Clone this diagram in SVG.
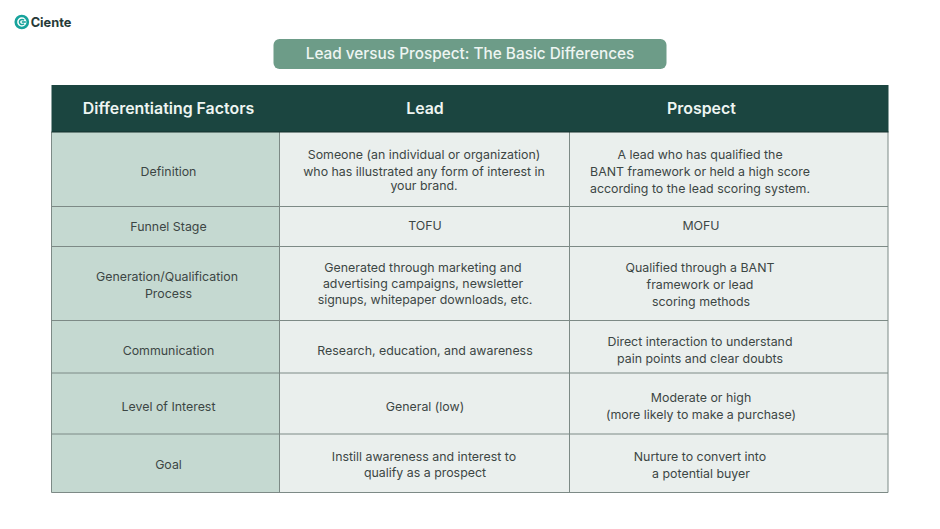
<svg xmlns="http://www.w3.org/2000/svg" width="940" height="529" viewBox="0 0 940 529">
<style>
text{font-family:Inter,"Noto Sans",sans-serif;text-anchor:middle}
.c{font-size:12.38px;fill:#3c4644}
.h{font-size:15.9px;font-weight:600;fill:#eef5f2}
.l{stroke:#7d8a86;stroke-width:1;fill:none}
</style>
<rect width="940" height="529" fill="#fff"/>
<g id="logo">
<circle cx="21.800" cy="22" r="6" fill="none" stroke="#17a39c" stroke-width="2.700"/>
<path d="M24 20.300A2.600 2.600 0 1 0 24 23.700" fill="none" stroke="#17a39c" stroke-width="1.500"/>
<rect x="21.800" y="21.200" width="4" height="1.600" fill="#17a39c"/>
<text x="51" y="26.500" style="font-size:12.800px;font-weight:700;fill:#263a38">Ciente</text>
</g>
<g id="title">
<rect x="273.500" y="39" width="393" height="30" rx="6" fill="#6d9c88"/>
<text x="470" y="59" style="font-size:15.350px;font-weight:500;fill:#eef5f2">Lead versus Prospect: The Basic Differences</text>
</g>
<g id="table-backgrounds">
<rect x="51.500" y="132" width="228" height="360.500" fill="#c5d9d1"/>
<rect x="279.500" y="132" width="608.500" height="360.500" fill="#eaefed"/>
<rect x="51.500" y="85" width="837" height="47" fill="#1b4540"/>
</g>
<g id="connectors">
<path class="l" d="M51.500 132V492.500H888V132M279.500 132V492.500M569.500 132V492.500M51.500 206.500H888M51.500 246.500H888M51.500 320.500H888M51.500 373H888M51.500 434H888"/>
<path d="M51.500 132H888.500" stroke="#15302d" stroke-width="1"/>
</g>
<g id="header">
<text class="h" x="168.500" y="113.700">Differentiating Factors</text>
<text class="h" x="425" y="113.700">Lead</text>
<text class="h" x="701.500" y="113.700">Prospect</text>
</g>
<g id="row-definition">
<text class="c" x="168.500" y="176">Definition</text>
<text class="c" x="424" y="159">Someone (an individual or organization)</text>
<text class="c" x="424" y="175.500">who has illustrated any form of interest in</text>
<text class="c" x="424" y="190">your brand.</text>
<text class="c" x="700" y="159">A lead who has qualified the</text>
<text class="c" x="700" y="176">BANT framework or held a high score</text>
<text class="c" x="700" y="193">according to the lead scoring system.</text>
</g>
<g id="row-funnel">
<text class="c" x="168.500" y="230.500">Funnel Stage</text>
<text class="c" x="425" y="230">TOFU</text>
<text class="c" x="701" y="230">MOFU</text>
</g>
<g id="row-generation">
<text class="c" x="167" y="280.500">Generation/Qualification</text>
<text class="c" x="168.500" y="297.500">Process</text>
<text class="c" x="423" y="272">Generated through marketing and</text>
<text class="c" x="423" y="288">advertising campaigns, newsletter</text>
<text class="c" x="425" y="303.500">signups, whitepaper downloads, etc.</text>
<text class="c" x="700" y="272">Qualified through a BANT</text>
<text class="c" x="700" y="289">framework or lead</text>
<text class="c" x="701" y="306">scoring methods</text>
</g>
<g id="row-communication">
<text class="c" x="168.500" y="354.500">Communication</text>
<text class="c" x="425" y="354.500">Research, education, and awareness</text>
<text class="c" x="700" y="346">Direct interaction to understand</text>
<text class="c" x="700" y="363">pain points and clear doubts</text>
</g>
<g id="row-interest">
<text class="c" x="168.500" y="411">Level of Interest</text>
<text class="c" x="425" y="411">General (low)</text>
<text class="c" x="701" y="402">Moderate or high</text>
<text class="c" x="701" y="419">(more likely to make a purchase)</text>
</g>
<g id="row-goal">
<text class="c" x="168.500" y="469">Goal</text>
<text class="c" x="424" y="460.500">Instill awareness and interest to</text>
<text class="c" x="425" y="476.500">qualify as a prospect</text>
<text class="c" x="700" y="460.500">Nurture to convert into</text>
<text class="c" x="701" y="477.500">a potential buyer</text>
</g>
</svg>
